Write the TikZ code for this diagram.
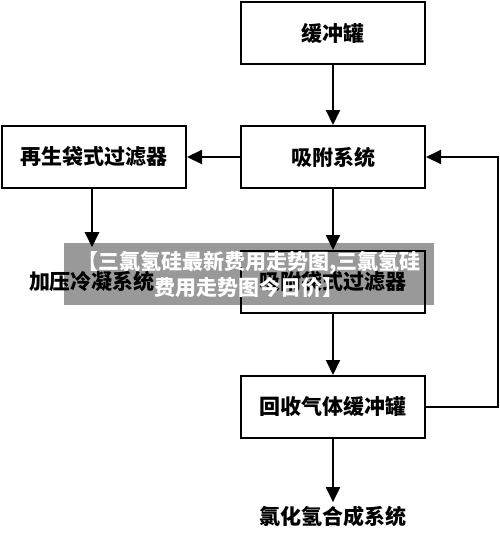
\documentclass[tikz,border=0pt]{standalone}
\usepackage{fontspec}
\setmainfont{Noto Sans CJK SC}
\usetikzlibrary{positioning, arrows.meta}

\begin{document}
\begin{tikzpicture}[x=1pt, y=-1pt,
    box/.style={draw, line width=2pt, minimum width=184pt, minimum height=62pt,
                font=\fontsize{21}{24}\selectfont\bfseries},
    txt/.style={font=\fontsize{21}{24}\selectfont\bfseries},
    arr/.style={line width=2pt, -{Triangle[length=15pt, width=14pt]}}]
    \useasboundingbox (0,0) rectangle (500,550);

    \node[box] (buffer) at (333,33) {缓冲罐};
    \node[box] (adsorb) at (333,157) {吸附系统};
    \node[box] (regen) at (94,157) {再生袋式过滤器};
    \node[box] (bagfilter) at (333,282) {吸附袋式过滤器};
    \node[box] (recover) at (333,407) {回收气体缓冲罐};
    \node[txt] (cond) at (92,281) {加压冷凝系统};
    \node[txt] (hcl) at (333,516) {氯化氢合成系统};
    \coordinate (ret) at (498,407);

    \draw[arr] (buffer) -- (adsorb);
    \draw[arr] (adsorb) -- (regen);
    \draw[arr] (adsorb) -- (bagfilter);
    \draw[arr] (bagfilter) -- (recover);
    \draw[arr] (recover) -- (hcl);
    \draw[arr, shorten >=20pt] (regen.south -| cond) -- (cond);
    \draw[arr] (recover) -- (ret) |- (adsorb);

    % watermark band
    \node[fill=black, fill opacity=0.4, minimum width=370pt, minimum height=62pt] (mark) at (249,274) {};
    \node[text=white, align=center, font=\fontsize{21}{26}\selectfont\bfseries] at (mark) {【三氯氢硅最新费用走势图,三氯氢硅\\费用走势图今日价】};
\end{tikzpicture}
\end{document}
